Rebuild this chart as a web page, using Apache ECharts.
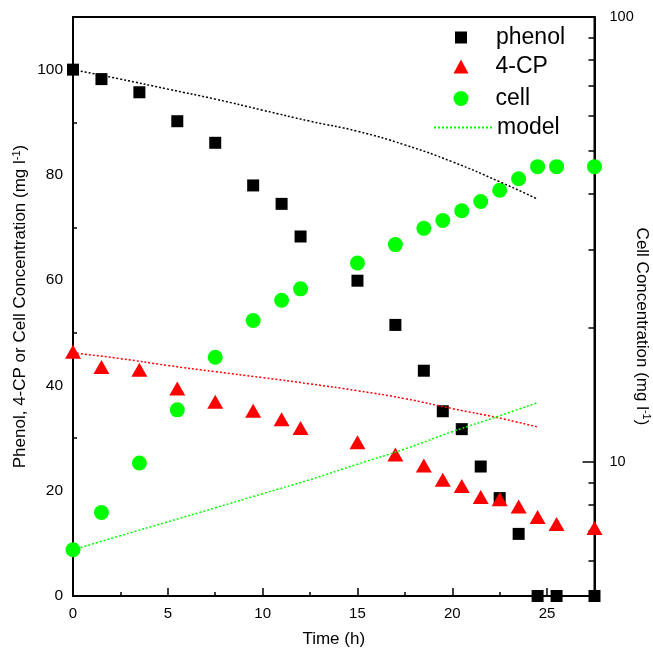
<!DOCTYPE html>
<html>
<head>
<meta charset="utf-8">
<script src="https://cdn.jsdelivr.net/npm/echarts@6/dist/echarts.min.js"></script>
<style>
  html, body { margin: 0; padding: 0; background: #fff; }
  #chart { width: 653px; height: 654px; }
</style>
</head>
<body>
<div id="chart"></div>
<script>
// measured samples (h)
const time = [0, 1.5, 3.5, 5.5, 7.5, 9.5, 11, 12, 15, 17, 18.5, 19.5, 20.5, 21.5, 22.5, 23.5, 24.5, 25.5, 27.5];
const phenol = [100, 98.2, 95.7, 90.2, 86.1, 78.0, 74.5, 68.3, 59.9, 51.5, 42.8, 35.1, 31.7, 24.6, 18.6, 11.8, 0, 0, 0];
const cp = [46.4, 43.5, 43.0, 39.4, 36.9, 35.2, 33.6, 31.9, 29.2, 26.9, 24.8, 22.1, 20.9, 18.8, 18.4, 17.0, 15.0, 13.7, 12.9];
const cell = [6.35, 7.70, 9.95, 13.1, 17.2, 20.8, 23.1, 24.5, 28.0, 30.8, 33.5, 34.9, 36.7, 38.5, 40.8, 43.3, 46.1, 46.1, 46.1];

// model curves
const modelTime = [0, 2.5, 5, 7.5, 10, 12.5, 15, 17.5, 20, 22.5, 24.5];
const phenolModel = [100, 98.2, 96.3, 94.4, 92.3, 90.2, 88.3, 85.7, 82.5, 78.7, 75.4];
const cpModel = [46.2, 45.1, 43.8, 42.6, 41.5, 40.3, 39.0, 37.5, 35.6, 33.8, 32.1];
const cellModel = [6.35, 6.83, 7.34, 7.89, 8.49, 9.13, 9.89, 10.7, 11.7, 12.7, 13.6];

const rightLabels = [10, 100];

const font = 'Liberation Sans, Arial, Helvetica, sans-serif';
const pairs = (xs, ys) => xs.map((x, i) => [x, ys[i]]);

const chart = echarts.init(document.getElementById('chart'));

// one legend per entry so each icon keeps its own size
function legendItem(name, left, top, w, h, gap) {
  return {
    data: [name],
    left: left,
    top: top,
    padding: 0,
    itemWidth: w,
    itemHeight: h,
    selectedMode: false,
    textStyle: { fontSize: 23, color: '#000', fontFamily: font, padding: [0, 0, 0, gap] }
  };
}

const modelLegend = legendItem('model', 433, 116, 58, 12, 0);
modelLegend.itemStyle = { opacity: 0 };

const supStyle = { fontSize: 11, color: '#000', padding: [0, 0, 8, 0] };

const options = {
  animation: false,
  backgroundColor: '#fff',
  textStyle: { fontFamily: font },
  grid: {
    left: 73, right: 58.5, top: 17, bottom: 58,
    outerBoundsMode: 'none',
    containLabel: false,
    show: true, borderColor: '#000', borderWidth: 2
  },
  legend: [
    legendItem('phenol', 455, 26, 12, 12, 24),
    legendItem('4-CP', 453.5, 55, 15, 14, 22),
    legendItem('cell', 453.5, 87, 15, 15, 22),
    modelLegend
  ],
  xAxis: {
    type: 'value',
    min: 0, max: 27.5, interval: 5,
    name: 'Time (h)',
    nameLocation: 'middle',
    nameGap: 35,
    nameMoveOverlap: false,
    nameTextStyle: { fontSize: 17, color: '#000' },
    axisLine: { lineStyle: { color: '#000', width: 2 } },
    axisTick: { inside: true, length: 8, lineStyle: { color: '#000', width: 1.5 } },
    minorTick: { show: true, splitNumber: 2, length: 4, lineStyle: { color: '#000', width: 1.5 } },
    splitLine: { show: false },
    axisLabel: { fontSize: 15, color: '#000', margin: 10, showMaxLabel: false }
  },
  yAxis: [
    {
      type: 'value',
      min: 0, max: 110, interval: 20,
      name: 'Phenol, 4-CP or Cell Concentration (mg l{sup|-1})',
      nameLocation: 'middle',
      nameGap: 43,
      nameMoveOverlap: false,
      nameTextStyle: { fontSize: 17, color: '#000', rich: { sup: supStyle } },
      axisLine: { show: true, lineStyle: { color: '#000', width: 2 } },
      axisTick: { show: false, inside: true },
      minorTick: { show: true, splitNumber: 2, length: 4, lineStyle: { color: '#000', width: 1.5 } },
      splitLine: { show: false },
      axisLabel: { fontSize: 15.5, color: '#000', margin: 10, showMaxLabel: false }
    },
    {
      type: 'log',
      logBase: 10,
      min: 5, max: 100,
      position: 'right',
      name: 'Cell Concentration (mg l{sup|-1})',
      nameLocation: 'middle',
      nameRotate: -90,
      nameGap: 38,
      nameMoveOverlap: false,
      nameTextStyle: { fontSize: 17, color: '#000', padding: [0, 0, 0, 40], rich: { sup: supStyle } },
      axisLine: { show: true, lineStyle: { color: '#000', width: 2 } },
      axisTick: { show: true, inside: true, length: 12, lineStyle: { color: '#000', width: 1.5 } },
      minorTick: { show: true, splitNumber: 9, length: 6, lineStyle: { color: '#000', width: 1.5 } },
      splitLine: { show: false },
      axisLabel: {
        fontSize: 14.5, color: '#000', margin: 15,
        formatter: function (v) { return rightLabels.indexOf(Math.round(v)) >= 0 ? String(Math.round(v)) : ''; }
      }
    }
  ],
  series: [
    {
      name: 'phenol', type: 'scatter', symbol: 'rect', symbolSize: 12,
      itemStyle: { color: '#000', opacity: 1 }, data: pairs(time, phenol)
    },
    {
      name: '4-CP', type: 'scatter', symbol: 'triangle', symbolSize: [16, 14],
      itemStyle: { color: '#ff0000', opacity: 1 }, data: pairs(time, cp)
    },
    {
      name: 'cell', type: 'scatter', symbol: 'circle', symbolSize: 15, yAxisIndex: 1,
      itemStyle: { color: '#00ff00', opacity: 1 }, data: pairs(time, cell)
    },
    {
      name: 'phenol model', type: 'line', symbol: 'none', smooth: true,
      lineStyle: { color: '#000', width: 1.5, type: [2, 2] }, data: pairs(modelTime, phenolModel)
    },
    {
      name: '4-CP model', type: 'line', symbol: 'none', smooth: true,
      lineStyle: { color: '#ff0000', width: 1.5, type: [2, 2] }, data: pairs(modelTime, cpModel)
    },
    {
      name: 'model', type: 'line', symbol: 'none', smooth: true, yAxisIndex: 1,
      itemStyle: { color: '#00ff00' },
      lineStyle: { color: '#00ff00', width: 1.5, type: [2, 2] }, data: pairs(modelTime, cellModel)
    }
  ]
};

chart.setOption(options);
</script>
</body>
</html>
